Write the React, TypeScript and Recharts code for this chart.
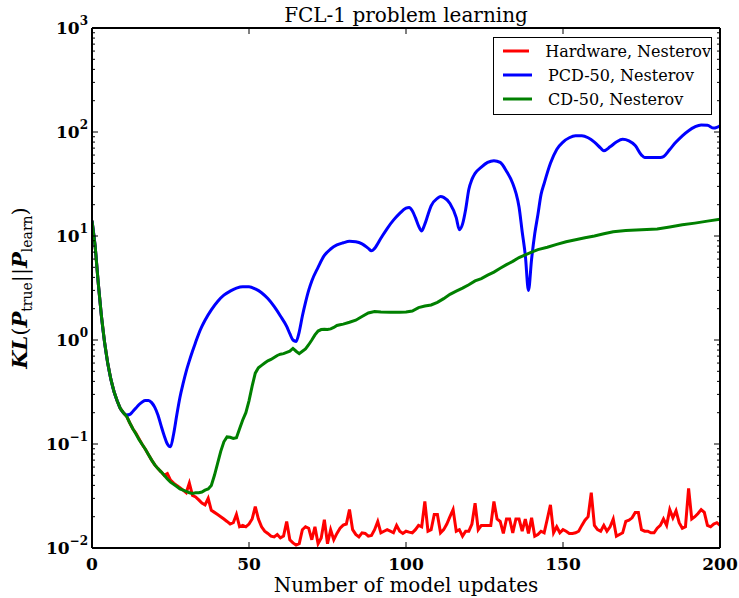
import React from 'react';
import { LineChart, Line, XAxis, YAxis, Legend } from 'recharts';

const FONT = '"DejaVu Serif", serif';

// categories: number of model updates for the hardware run (one value per update)
const updateSteps: number[] = Array.from({ length: 201 }, (_, i) => i);

const hardwareKL: number[] = [
  14, 8, 3.5, 1.7, 0.95, 0.6, 0.42, 0.32, 0.26, 0.22,
  0.2, 0.185, 0.16, 0.14, 0.127, 0.112, 0.099, 0.089, 0.079, 0.07,
  0.063, 0.058, 0.054, 0.05, 0.052, 0.045, 0.042, 0.04, 0.038, 0.036,
  0.034, 0.042, 0.032, 0.031, 0.029, 0.027, 0.026, 0.03, 0.023, 0.022,
  0.021, 0.02, 0.019, 0.018, 0.017, 0.0175, 0.021, 0.016, 0.0165, 0.016,
  0.017, 0.019, 0.025, 0.019, 0.016, 0.0145, 0.0138, 0.013, 0.0128, 0.0135,
  0.0125, 0.013, 0.018, 0.012, 0.0112, 0.0107, 0.011, 0.015, 0.016, 0.0155,
  0.012, 0.016, 0.011, 0.0125, 0.0187, 0.011, 0.015, 0.012, 0.0138, 0.0155,
  0.0166, 0.017, 0.0234, 0.015, 0.0135, 0.0128, 0.014, 0.0138, 0.013, 0.0132,
  0.015, 0.018, 0.014, 0.0145, 0.015, 0.0145, 0.014, 0.0165, 0.0145, 0.0138,
  0.0145, 0.0142, 0.014, 0.015, 0.0165, 0.016, 0.028, 0.0145, 0.015, 0.021,
  0.021, 0.014, 0.015, 0.017, 0.02, 0.0234, 0.0145, 0.015, 0.013, 0.0145,
  0.0145, 0.017, 0.027, 0.015, 0.0165, 0.0165, 0.0165, 0.0165, 0.028, 0.019,
  0.018, 0.0138, 0.019, 0.019, 0.014, 0.019, 0.019, 0.0145, 0.019, 0.0138,
  0.0195, 0.013, 0.0135, 0.0145, 0.014, 0.019, 0.026, 0.014, 0.016, 0.014,
  0.015, 0.0145, 0.0138, 0.0138, 0.014, 0.0145, 0.0165, 0.0185, 0.02, 0.034,
  0.0165, 0.015, 0.0145, 0.0165, 0.0145, 0.016, 0.019, 0.013, 0.0135, 0.014,
  0.018, 0.0185, 0.0195, 0.022, 0.022, 0.015, 0.0145, 0.0145, 0.014, 0.014,
  0.0155, 0.0165, 0.019, 0.0165, 0.0234, 0.0195, 0.0228, 0.0175, 0.0155, 0.016,
  0.0375, 0.019, 0.02, 0.0215, 0.0234, 0.022, 0.0165, 0.016, 0.017, 0.0175,
  0.0165,
];

const pcdSteps: number[] = [
  0, 1, 2, 3, 4, 5, 6, 7, 8, 9,
  10, 11, 12, 13, 14, 15, 16, 17, 18, 19,
  20, 21, 22, 23, 24, 25, 26, 27, 28, 29,
  30, 31, 32, 33, 34, 35, 36, 38, 40, 42,
  44, 46, 48, 50, 52, 54, 56, 58, 60, 62,
  63, 64, 65, 66, 67, 68, 69, 70, 72, 74,
  76, 78, 80, 82, 84, 86, 88, 89, 90, 92,
  94, 96, 98, 100, 101, 102, 103, 104, 105, 106,
  107, 108, 110, 111, 112, 114, 116, 117, 118, 119,
  120, 121, 122, 124, 126, 128, 130, 132, 134, 135,
  136, 137, 138, 139, 140, 141, 142, 143, 144, 146,
  148, 150, 152, 154, 156, 158, 160, 162, 163, 165,
  167, 169, 171, 173, 175, 176, 178, 181, 182, 184,
  186, 188, 190, 192, 194, 196, 198, 199, 200,
];
const pcdKL: number[] = [
  14, 8, 3.5, 1.7, 0.95, 0.6, 0.42, 0.32, 0.26, 0.22,
  0.2, 0.19, 0.192, 0.205, 0.222, 0.24, 0.254, 0.262, 0.262, 0.25,
  0.225, 0.19, 0.15, 0.12, 0.1, 0.094, 0.125, 0.19, 0.28, 0.38,
  0.5, 0.63, 0.78, 0.95, 1.15, 1.35, 1.55, 1.95, 2.35, 2.7,
  2.95, 3.15, 3.25, 3.25, 3.1, 2.85, 2.5, 2.1, 1.7, 1.35,
  1.15, 1.0, 0.97, 1.2, 1.7, 2.3, 3.0, 3.7, 5.0, 6.5,
  7.5, 8.2, 8.6, 8.9, 8.8, 8.4, 7.6, 7.2, 7.6, 9.5,
  11.8, 14.2, 16.5, 18.5, 18.8, 17.5, 15, 12.5, 11.2, 13,
  16, 19.5, 23, 24, 23.5, 20.5, 15, 11.5, 13, 18,
  28, 35, 40, 46, 51, 53, 51, 42, 32, 26,
  19, 11, 6.5, 3.0, 6, 10.5, 16, 25, 32, 50,
  68, 80, 88, 92, 92, 88, 80, 70, 66, 72,
  80, 85, 82, 74, 60, 57, 57, 57, 58, 68,
  80, 92, 103, 112, 117, 116, 109, 111, 115,
];

const cdSteps: number[] = [
  0, 1, 2, 3, 4, 5, 6, 7, 8, 9,
  10, 11, 12, 13, 14, 15, 16, 17, 18, 19,
  20, 21, 22, 23, 24, 25, 26, 27, 28, 29,
  30, 31, 32, 33, 34, 35, 36, 37, 38, 39,
  40, 41, 42, 43, 44, 45, 46, 47, 48, 49,
  50, 51, 52, 53, 54, 55, 56, 57, 58, 59,
  60, 61, 62, 63, 64, 65, 66, 67, 68, 69,
  70, 71, 72, 73, 74, 75, 76, 77, 78, 79,
  80, 82, 84, 86, 88, 90, 92, 95, 98, 100,
  102, 104, 106, 108, 110, 112, 114, 116, 118, 120,
  122, 124, 126, 128, 130, 132, 134, 136, 138, 140,
  142, 145, 148, 151, 154, 157, 160, 163, 166, 170,
  175, 180, 184, 188, 192, 196, 200,
];
const cdKL: number[] = [
  14, 8, 3.5, 1.7, 0.95, 0.6, 0.42, 0.32, 0.26, 0.22,
  0.2, 0.185, 0.16, 0.14, 0.125, 0.11, 0.099, 0.089, 0.079, 0.07,
  0.063, 0.058, 0.054, 0.05, 0.046, 0.043, 0.041, 0.039, 0.037, 0.036,
  0.035, 0.034, 0.0335, 0.034, 0.034, 0.0345, 0.036, 0.037, 0.04, 0.05,
  0.065, 0.085, 0.105, 0.117, 0.116, 0.113, 0.115, 0.14, 0.17, 0.2,
  0.26, 0.36, 0.48, 0.54, 0.57, 0.6, 0.63, 0.65, 0.68, 0.71,
  0.73, 0.74, 0.76, 0.78, 0.83, 0.78, 0.74, 0.78, 0.82, 0.9,
  1.0, 1.12, 1.22, 1.26, 1.27, 1.26, 1.28, 1.32, 1.38, 1.4,
  1.42, 1.48, 1.55, 1.68, 1.82, 1.88, 1.86, 1.85, 1.85, 1.86,
  1.9, 2.05, 2.12, 2.17, 2.3, 2.5, 2.75, 2.95, 3.15, 3.4,
  3.7, 3.9, 4.2, 4.5, 4.9, 5.3, 5.7, 6.2, 6.6, 7.0,
  7.4, 7.8, 8.3, 8.8, 9.2, 9.6, 10.0, 10.5, 11.0, 11.3,
  11.5, 11.7, 12.2, 12.8, 13.3, 13.9, 14.5,
];

const seriesNames: string[] = ['Hardware, Nesterov', 'PCD-50, Nesterov', 'CD-50, Nesterov'];
const seriesColors: string[] = ['#ff0000', '#0000ff', '#008000'];

const xTicks: number[] = [0, 50, 100, 150, 200];
const yMajorTicks: number[] = [0.01, 0.1, 1, 10, 100, 1000];
const yTickExponents: string[] = ['−2', '−1', '0', '1', '2', '3'];
const minorMultipliers: number[] = [2, 3, 4, 5, 6, 7, 8, 9];
const yMinorTicks: number[] = yMajorTicks
  .slice(0, -1)
  .flatMap((d) => minorMultipliers.map((k) => +(k * d).toPrecision(3)));
const yAllTicks: number[] = [...yMajorTicks, ...yMinorTicks];

const titleText = 'FCL-1 problem learning';
const xLabelText = 'Number of model updates';

const hwData = updateSteps.map((x, i) => ({ x, y: hardwareKL[i] }));
const pcdData = pcdSteps.map((x, i) => ({ x, y: pcdKL[i] }));
const cdData = cdSteps.map((x, i) => ({ x, y: cdKL[i] }));
const seriesData = [hwData, pcdData, cdData];

const isMajor = (v: number) => yMajorTicks.some((m) => Math.abs(m - v) / m < 1e-6);

const LeftTick = (props: any) => {
  const { x, y, payload } = props;
  const v = payload.value;
  const major = isMajor(v);
  const idx = yMajorTicks.findIndex((m) => Math.abs(m - v) / m < 1e-6);
  return (
    <g>
      <line x1={x} x2={x + (major ? 6 : 3)} y1={y} y2={y} stroke="#000" strokeWidth={1} />
      {major && (
        <text x={x - 4} y={y + 6} textAnchor="end" fontFamily={FONT} fontWeight="bold" fontSize={17} fill="#000">
          10<tspan dy={-9} fontSize={12}>{yTickExponents[idx]}</tspan>
        </text>
      )}
    </g>
  );
};

const RightTick = (props: any) => {
  const { x, y, payload } = props;
  const major = isMajor(payload.value);
  return <line x1={x} x2={x - (major ? 6 : 3)} y1={y} y2={y} stroke="#000" strokeWidth={1} />;
};

const BottomTick = (props: any) => {
  const { x, y, payload } = props;
  return (
    <g>
      <line x1={x} x2={x} y1={y} y2={y - 6} stroke="#000" strokeWidth={1} />
      <text x={x} y={y + 22} textAnchor="middle" fontFamily={FONT} fontWeight="bold" fontSize={17} fill="#000">
        {payload.value}
      </text>
    </g>
  );
};

const TopTick = (props: any) => {
  const { x, y } = props;
  return <line x1={x} x2={x} y1={y} y2={y + 6} stroke="#000" strokeWidth={1} />;
};

const TitleLabel = (props: any) => {
  const vb = props.viewBox;
  return (
    <text x={vb.x + vb.width / 2} y={vb.y - 5} textAnchor="middle" fontFamily={FONT} fontSize={20} fill="#000">
      {titleText}
    </text>
  );
};

const XLabel = (props: any) => {
  const vb = props.viewBox;
  return (
    <text x={vb.x + vb.width / 2} y={vb.y + 44} textAnchor="middle" fontFamily={FONT} fontSize={20} fill="#000">
      {xLabelText}
    </text>
  );
};

const YLabel = (props: any) => {
  const vb = props.viewBox;
  const cx = vb.x + 27;
  const cy = vb.y + vb.height / 2;
  return (
    <text
      x={cx}
      y={cy}
      transform={`rotate(-90, ${cx}, ${cy})`}
      textAnchor="middle"
      fontFamily={FONT}
      fontSize={21}
      fill="#000"
    >
      <tspan fontWeight="bold" fontStyle="italic">KL</tspan>
      <tspan>(</tspan>
      <tspan fontWeight="bold" fontStyle="italic">P</tspan>
      <tspan fontSize={14} dy={5}>true</tspan>
      <tspan dy={-5}>||</tspan>
      <tspan fontWeight="bold" fontStyle="italic">P</tspan>
      <tspan fontSize={14} dy={5}>learn</tspan>
      <tspan dy={-5}>)</tspan>
    </text>
  );
};

const LegendBox = () => (
  <div
    style={{
      border: '1px solid #000',
      background: '#fff',
      paddingTop: 1,
      paddingBottom: 3,
      fontFamily: FONT,
      fontSize: 16,
      width: 219,
      boxSizing: 'border-box',
      color: '#000',
    }}
  >
    {seriesNames.map((name, i) => (
      <div key={name} style={{ display: 'flex', alignItems: 'center', height: 24 }}>
        <svg width={29} height={6} style={{ marginLeft: 9, marginRight: 16 }}>
          <line x1={0} x2={29} y1={3} y2={3} stroke={seriesColors[i]} strokeWidth={3} />
        </svg>
        <span style={{ whiteSpace: 'nowrap' }}>{name}</span>
      </div>
    ))}
  </div>
);

export default function App() {
  return (
    <div style={{ position: 'absolute', left: 0, top: 0, width: 739, height: 598, background: '#fff' }}>
      <LineChart width={739} height={598} margin={{ top: 27, right: 18, bottom: 0, left: 0 }}>
        <XAxis
          xAxisId="bottom"
          dataKey="x"
          type="number"
          domain={[0, 200]}
          ticks={xTicks}
          interval={0}
          allowDataOverflow
          height={50}
          tickSize={0}
          tickMargin={0}
          tickLine={false}
          axisLine={{ stroke: '#000', strokeWidth: 2 }}
          tick={<BottomTick />}
          label={{ content: XLabel }}
        />
        <XAxis
          xAxisId="top"
          orientation="top"
          dataKey="x"
          type="number"
          domain={[0, 200]}
          ticks={xTicks}
          interval={0}
          allowDataOverflow
          height={1}
          tickSize={0}
          tickMargin={0}
          tickLine={false}
          axisLine={{ stroke: '#000', strokeWidth: 2 }}
          tick={<TopTick />}
          label={{ content: TitleLabel }}
        />
        <YAxis
          yAxisId="left"
          type="number"
          scale="log"
          domain={[0.01, 1000]}
          allowDataOverflow
          ticks={yAllTicks}
          interval={0}
          width={92}
          tickSize={0}
          tickMargin={0}
          tickLine={false}
          axisLine={{ stroke: '#000', strokeWidth: 2 }}
          tick={<LeftTick />}
          label={{ content: YLabel }}
        />
        <YAxis
          yAxisId="right"
          orientation="right"
          type="number"
          scale="log"
          domain={[0.01, 1000]}
          allowDataOverflow
          ticks={yAllTicks}
          interval={0}
          width={1}
          tickSize={0}
          tickMargin={0}
          tickLine={false}
          axisLine={{ stroke: '#000', strokeWidth: 2 }}
          tick={<RightTick />}
        />
        {seriesData.map((d, i) => (
          <Line
            key={seriesNames[i]}
            data={d}
            xAxisId="bottom"
            yAxisId="left"
            dataKey="y"
            name={seriesNames[i]}
            type={i === 1 ? 'monotone' : 'linear'}
            stroke={seriesColors[i]}
            strokeWidth={3}
            dot={false}
            activeDot={false}
            isAnimationActive={false}
          />
        ))}
        <Legend
          layout="vertical"
          align="center"
          verticalAlign="middle"
          content={<LegendBox />}
          wrapperStyle={{ left: 493, top: 37, width: 219 }}
        />
      </LineChart>
    </div>
  );
}
